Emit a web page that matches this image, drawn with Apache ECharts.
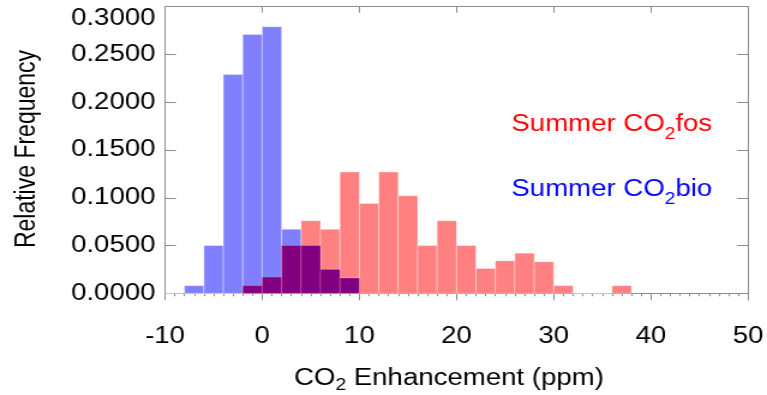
<!DOCTYPE html>
<html>
<head>
<meta charset="utf-8">
<script src="https://cdn.jsdelivr.net/npm/echarts@6/dist/echarts.min.js"></script>
<style>
  html, body { margin: 0; padding: 0; background: #fff; overflow: hidden; }
  /* the reference is drawn horizontally stretched, so draw narrow and stretch */
  #main { width: 639px; height: 395px; transform: scaleX(1.2003); transform-origin: 0 0; }
</style>
</head>
<body>
<div id="main"></div>
<script>
// bin left edges (ppm), each bin is 2 ppm wide
var binStart = [-10, -8, -6, -4, -2, 0, 2, 4, 6, 8, 10, 12, 14, 16, 18, 20, 22, 24, 26, 28, 30, 32, 34, 36];
var binEnd   = [-8, -6, -4, -2, 0, 2, 4, 6, 8, 10, 12, 14, 16, 18, 20, 22, 24, 26, 28, 30, 32, 34, 36, 38];
// relative frequency, summer CO2fos
var fosFreq = [0, 0, 0, 0, 0.008, 0.017, 0.050, 0.076, 0.067, 0.127, 0.094, 0.127, 0.102, 0.050, 0.076, 0.050, 0.026, 0.034, 0.042, 0.033, 0.008, 0, 0, 0.008];
// relative frequency, summer CO2bio
var bioFreq = [0, 0.008, 0.050, 0.229, 0.271, 0.279, 0.067, 0.050, 0.025, 0.016, 0, 0, 0, 0, 0, 0, 0, 0, 0, 0, 0, 0, 0, 0];
var xTicks = [-10, 0, 10, 20, 30, 40, 50];
var yTicks = [0, 0.05, 0.10, 0.15, 0.20, 0.25, 0.30];

var FONT = '"Liberation Sans", Arial, Helvetica, sans-serif';
var TEXT = '#000';
var chart = echarts.init(document.getElementById('main'));

function rows(values, skipZero) {
  var out = [];
  values.forEach(function (v, i) {
    if (skipZero && !v) return;
    out.push([binStart[i], binEnd[i], v]);
  });
  return out;
}

// overlap of the two histograms is drawn in purple
var overlap = fosFreq.map(function (v, i) { return Math.min(v, bioFreq[i]); });

function barRender(fill, stroke) {
  return function (params, api) {
    var p0 = api.coord([api.value(0), api.value(2)]);
    var p1 = api.coord([api.value(1), 0]);
    return {
      type: 'rect',
      shape: { x: p0[0], y: p0[1], width: p1[0] - p0[0], height: p1[1] - p0[1] },
      style: { fill: fill, stroke: stroke, lineWidth: 1 }
    };
  };
}

function customSeries(name, data, fill, stroke) {
  return {
    name: name,
    type: 'custom',
    xAxisIndex: 0,
    yAxisIndex: 0,
    encode: { x: [0, 1], y: 2 },
    renderItem: barRender(fill, stroke),
    data: data,
    silent: true
  };
}

var axisGray = '#8c8c8c';

function frameLine() {
  return { show: true, onZero: false, lineStyle: { color: axisGray, width: 1 } };
}

var option = {
  animation: false,
  backgroundColor: '#fff',
  grid: { left: 137.5, right: 15.8, top: 6.7, bottom: 101.7 },
  xAxis: [
    {
      type: 'value',
      position: 'bottom',
      min: xTicks[0],
      max: xTicks[xTicks.length - 1],
      interval: 10,
      axisLine: frameLine(),
      axisTick: { show: true, inside: false, length: 7, lineStyle: { color: axisGray } },
      minorTick: { show: true, splitNumber: 10, length: 3, lineStyle: { color: axisGray } },
      axisLabel: { fontSize: 23, fontFamily: FONT, color: TEXT, margin: 32 },
      splitLine: { show: false }
    },
    {
      type: 'value',
      position: 'top',
      min: xTicks[0],
      max: xTicks[xTicks.length - 1],
      interval: 10,
      axisLine: frameLine(),
      axisTick: { show: true, inside: true, length: 6, lineStyle: { color: axisGray } },
      axisLabel: { show: false },
      splitLine: { show: false }
    }
  ],
  yAxis: [
    {
      type: 'value',
      position: 'left',
      min: yTicks[0],
      max: yTicks[yTicks.length - 1],
      interval: 0.05,
      axisLine: frameLine(),
      axisTick: { show: true, inside: true, length: 9, lineStyle: { color: axisGray } },
      axisLabel: {
        fontSize: 23, fontFamily: FONT, color: TEXT, margin: 8,
        verticalAlignMaxLabel: 'top',
        formatter: function (v) { return v.toFixed(4); }
      },
      splitLine: { show: false }
    },
    {
      type: 'value',
      position: 'right',
      min: yTicks[0],
      max: yTicks[yTicks.length - 1],
      interval: 0.05,
      axisLine: frameLine(),
      axisTick: { show: true, inside: true, length: 9, lineStyle: { color: axisGray } },
      axisLabel: { show: false },
      splitLine: { show: false }
    }
  ],
  graphic: [
    {
      type: 'text',
      x: 22.5, y: 149,
      rotation: Math.PI / 2,
      style: {
        text: 'Relative Frequency',
        font: '23px ' + FONT,
        fill: TEXT,
        align: 'center',
        verticalAlign: 'middle'
      }
    },
    {
      type: 'text',
      x: 374, y: 363,
      style: {
        text: '{a|CO}{s|2}{a| Enhancement (ppm)}',
        align: 'center',
        verticalAlign: 'top',
        rich: {
          a: { fontSize: 23, fontFamily: FONT, fill: TEXT, lineHeight: 31 },
          s: { fontSize: 16, fontFamily: FONT, fill: TEXT, lineHeight: 16, verticalAlign: 'bottom' }
        }
      }
    },
    {
      type: 'text',
      x: 426, y: 107,
      style: {
        text: '{a|Summer CO}{s|2}{a|fos}',
        align: 'left',
        verticalAlign: 'top',
        rich: {
          a: { fontSize: 23, fontFamily: FONT, fill: '#ff0000', lineHeight: 36 },
          s: { fontSize: 16, fontFamily: FONT, fill: '#ff0000', lineHeight: 15, verticalAlign: 'bottom' }
        }
      }
    },
    {
      type: 'text',
      x: 426, y: 172,
      style: {
        text: '{a|Summer CO}{s|2}{a|bio}',
        align: 'left',
        verticalAlign: 'top',
        rich: {
          a: { fontSize: 23, fontFamily: FONT, fill: '#0000ff', lineHeight: 36 },
          s: { fontSize: 16, fontFamily: FONT, fill: '#0000ff', lineHeight: 15, verticalAlign: 'bottom' }
        }
      }
    }
  ],
  series: [
    customSeries('Summer CO2fos', rows(fosFreq, false), '#ff8080', 'rgba(255,255,255,0.35)'),
    customSeries('Summer CO2bio', rows(bioFreq, true), '#8080ff', 'rgba(255,255,255,0.35)'),
    customSeries('overlap', rows(overlap, true), '#800080', 'rgba(255,120,160,0.35)')
  ]
};

chart.setOption(option);
</script>
</body>
</html>
